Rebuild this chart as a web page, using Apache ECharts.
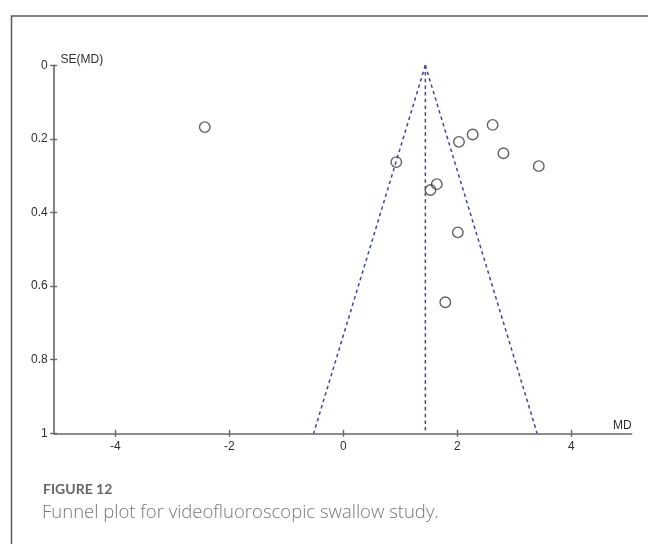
<!DOCTYPE html>
<html>
<head>
<meta charset="utf-8">
<script src="https://cdn.jsdelivr.net/npm/echarts@6/dist/echarts.min.js"></script>
<style>
html,body{margin:0;padding:0;background:#fff;}
#c{width:648px;height:544px;}
</style>
</head>
<body>
<div id="c"></div>
<script>
// Study points: mean difference (MD) and its standard error SE(MD)
const studyMD = [-2.43, 0.93, 1.53, 1.64, 2.03, 2.27, 2.62, 2.81, 3.43, 2.01, 1.79];
const studySE = [0.168, 0.263, 0.339, 0.323, 0.208, 0.188, 0.162, 0.239, 0.274, 0.454, 0.644];
// Funnel (pooled estimate and pseudo 95% limits at SE = 1)
const pooledMD = 1.44;
const funnelSE = [0, 1];
const funnelLowerMD = [1.44, -0.52];
const funnelUpperMD = [1.44, 3.40];
const xTicks = [-4, -2, 0, 2, 4];
const yTicks = [0, 0.2, 0.4, 0.6, 0.8, 1];
const xName = 'MD';
const yName = 'SE(MD)';
const captionTitle = 'FIGURE 12';
const captionText = 'Funnel plot for videofluoroscopic swallow study.';

const chart = echarts.init(document.getElementById('c'), null, {renderer: 'canvas'});

const axisColor = '#666';
const labelFont = '"Liberation Sans", Arial, sans-serif';
const labelStyle = {color: '#2e2e2e', fontFamily: labelFont, fontSize: 12};
const dashColor = '#45459e';

const pts = studyMD.map((m, i) => [m, studySE[i]]);
const lineData = (xs) => xs.map((x, i) => [x, funnelSE[i]]);

const xBase = {
  type: 'value', min: -5.08, max: 5.06, position: 'bottom',
  splitLine: {show: false}
};
const yBase = {
  type: 'value', min: 0, max: 1, interval: 0.2, inverse: true, position: 'left',
  splitLine: {show: false}
};

chart.setOption({
  animation: false,
  backgroundColor: '#fff',
  grid: {left: 53.7, right: 16.3, top: 65.3, bottom: 110.7, containLabel: false},
  xAxis: [
    Object.assign({}, xBase, {
      axisLine: {show: true, onZero: false, lineStyle: {color: axisColor, width: 1.6}},
      axisTick: {show: true, inside: false, length: 3.5, customValues: xTicks, lineStyle: {color: axisColor, width: 1.4}},
      axisLabel: Object.assign({show: true, margin: 7, customValues: xTicks}, labelStyle)
    }),
    Object.assign({}, xBase, {
      axisLine: {show: false, onZero: false},
      axisTick: {show: true, inside: true, length: 3.5, customValues: xTicks, lineStyle: {color: axisColor, width: 1.4}},
      axisLabel: {show: false}
    })
  ],
  yAxis: [
    Object.assign({}, yBase, {
      axisLine: {show: true, onZero: false, lineStyle: {color: axisColor, width: 1.6}},
      axisTick: {show: true, inside: false, length: 3.5, lineStyle: {color: axisColor, width: 1.4}},
      axisLabel: Object.assign({show: true, margin: 6, formatter: v => String(+v.toFixed(1))}, labelStyle)
    }),
    Object.assign({}, yBase, {
      axisLine: {show: false, onZero: false},
      axisTick: {show: true, inside: true, length: 3.5, lineStyle: {color: axisColor, width: 1.4}},
      axisLabel: {show: false}
    })
  ],
  series: [
    {
      type: 'line', data: lineData(funnelLowerMD), symbol: 'none', silent: true,
      lineStyle: {color: dashColor, width: 1.5, type: [3.5, 3.2]}
    },
    {
      type: 'line', data: lineData(funnelUpperMD), symbol: 'none', silent: true,
      lineStyle: {color: dashColor, width: 1.5, type: [3.5, 3.2]}
    },
    {
      type: 'line', data: funnelSE.map(s => [pooledMD, s]), symbol: 'none', silent: true,
      lineStyle: {color: dashColor, width: 1.5, type: [3.5, 3.2]}
    },
    {
      type: 'scatter', data: pts, symbol: 'circle', symbolSize: 10.5,
      itemStyle: {color: 'rgba(0,0,0,0)', borderColor: '#3a3a3a', borderWidth: 1.4}
    }
  ],
  graphic: [
    {type: 'rect', left: 9, top: 13.5, silent: true, z: -1,
      shape: {width: 700, height: 600},
      style: {fill: 'none', stroke: '#5a5a5a', lineWidth: 1.5}},
    {type: 'text', left: 60.5, top: 53.5, silent: true,
      style: {text: yName, fill: '#2e2e2e', font: '12px ' + labelFont}},
    {type: 'text', right: 16.3, top: 419.5, silent: true,
      style: {text: xName, fill: '#2e2e2e', font: '12px ' + labelFont}},
    {type: 'text', left: 43, top: 482, silent: true,
      style: {text: captionTitle, fill: '#666', font: 'bold 14px Lato, "Open Sans", sans-serif'}},
    {type: 'text', left: 42, top: 503.5, silent: true,
      style: {text: captionText, fill: '#777', font: '300 18.5px "Open Sans", Lato, sans-serif'}}
  ]
});
</script>
</body>
</html>
